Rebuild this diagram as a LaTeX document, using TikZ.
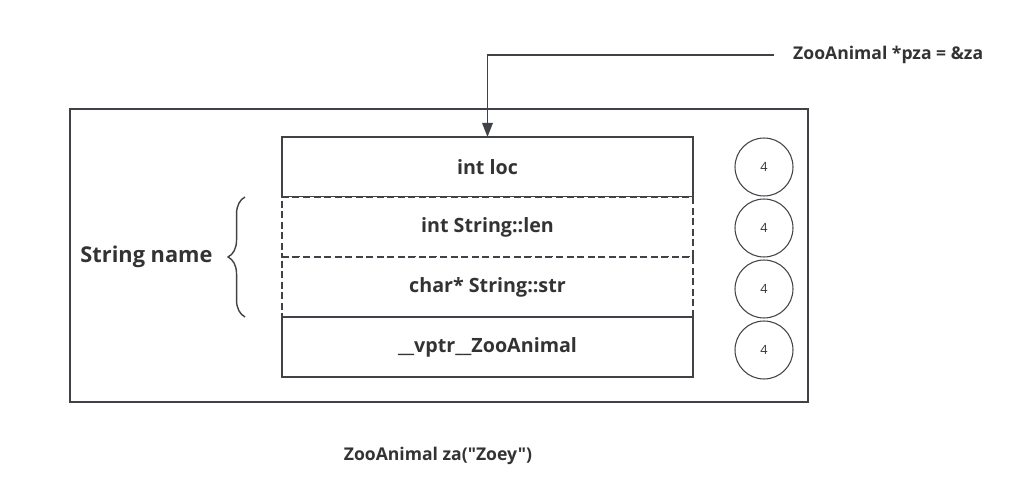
\documentclass[tikz,border=0pt]{standalone}
\usepackage{fontspec}
\setmainfont{Open Sans}
\newfontfamily\capfont{Open Sans}
\usetikzlibrary{positioning,arrows.meta,decorations.pathreplacing}

\definecolor{linegray}{HTML}{3F4347}
\definecolor{textgray}{HTML}{333333}

\tikzset{
  cell/.style={draw=linegray, line width=0.8pt, fill=white, minimum width=8.22cm,
    minimum height=1.2cm, outer sep=0pt, font=\bfseries\fontsize{11.2}{13}\selectfont, text=textgray},
  dcell/.style={cell, dashed, dash pattern=on 4pt off 2pt},
  sizebox/.style={draw=linegray, line width=0.6pt, circle, minimum size=1.16cm,
    inner sep=0pt, font=\fontsize{7.2}{8}\selectfont, text=textgray},
  lbl/.style={font=\bfseries\fontsize{10}{12}\selectfont, text=textgray},
  brc/.style={draw=linegray, line width=0.8pt, decorate,
    decoration={brace, amplitude=0.34cm}},
}

\begin{document}
\begin{tikzpicture}[x=0.02cm, y=-0.02cm]
\useasboundingbox (0,0) rectangle (1012,500);

% the object
\node[draw=linegray, line width=0.8pt, minimum width=14.76cm, minimum height=5.86cm] (za) at (439,255.5) {};

% members
\node[cell] (loc) at (487.5,167) {int loc};
\node[dcell, below=0pt of loc] (len) {int String::len};
\node[dcell, below=0pt of len] (str) {char* String::str};
\node[cell, below=0pt of str] (vptr) {\_\_vptr\_\_ZooAnimal};

% sizes
\node[sizebox] (s1) at (764,167) {4};
\node[sizebox] (s2) at (764,228) {4};
\node[sizebox] (s3) at (764,289) {4};
\node[sizebox] (s4) at (764,350) {4};

% String name
\draw[brc] ([xshift=-0.74cm]str.south west) -- ([xshift=-0.74cm]len.north west)
  node[midway, left=0.52cm, font=\bfseries\fontsize{12.4}{14}\selectfont, text=textgray] (sname) {String name};

% pointer
\node[lbl, anchor=west] (pza) at (787,55) {ZooAnimal *pza = \&za};
\draw[draw=linegray, line width=0.8pt, -{Triangle[length=8pt, width=6pt]}, shorten <=0.26cm]
  (pza.west) -| (loc.north);

\node[lbl, font=\capfont\bfseries\fontsize{10}{12}\selectfont] (cap) at (438,456) {ZooAnimal za("Zoey")};
\end{tikzpicture}
\end{document}
